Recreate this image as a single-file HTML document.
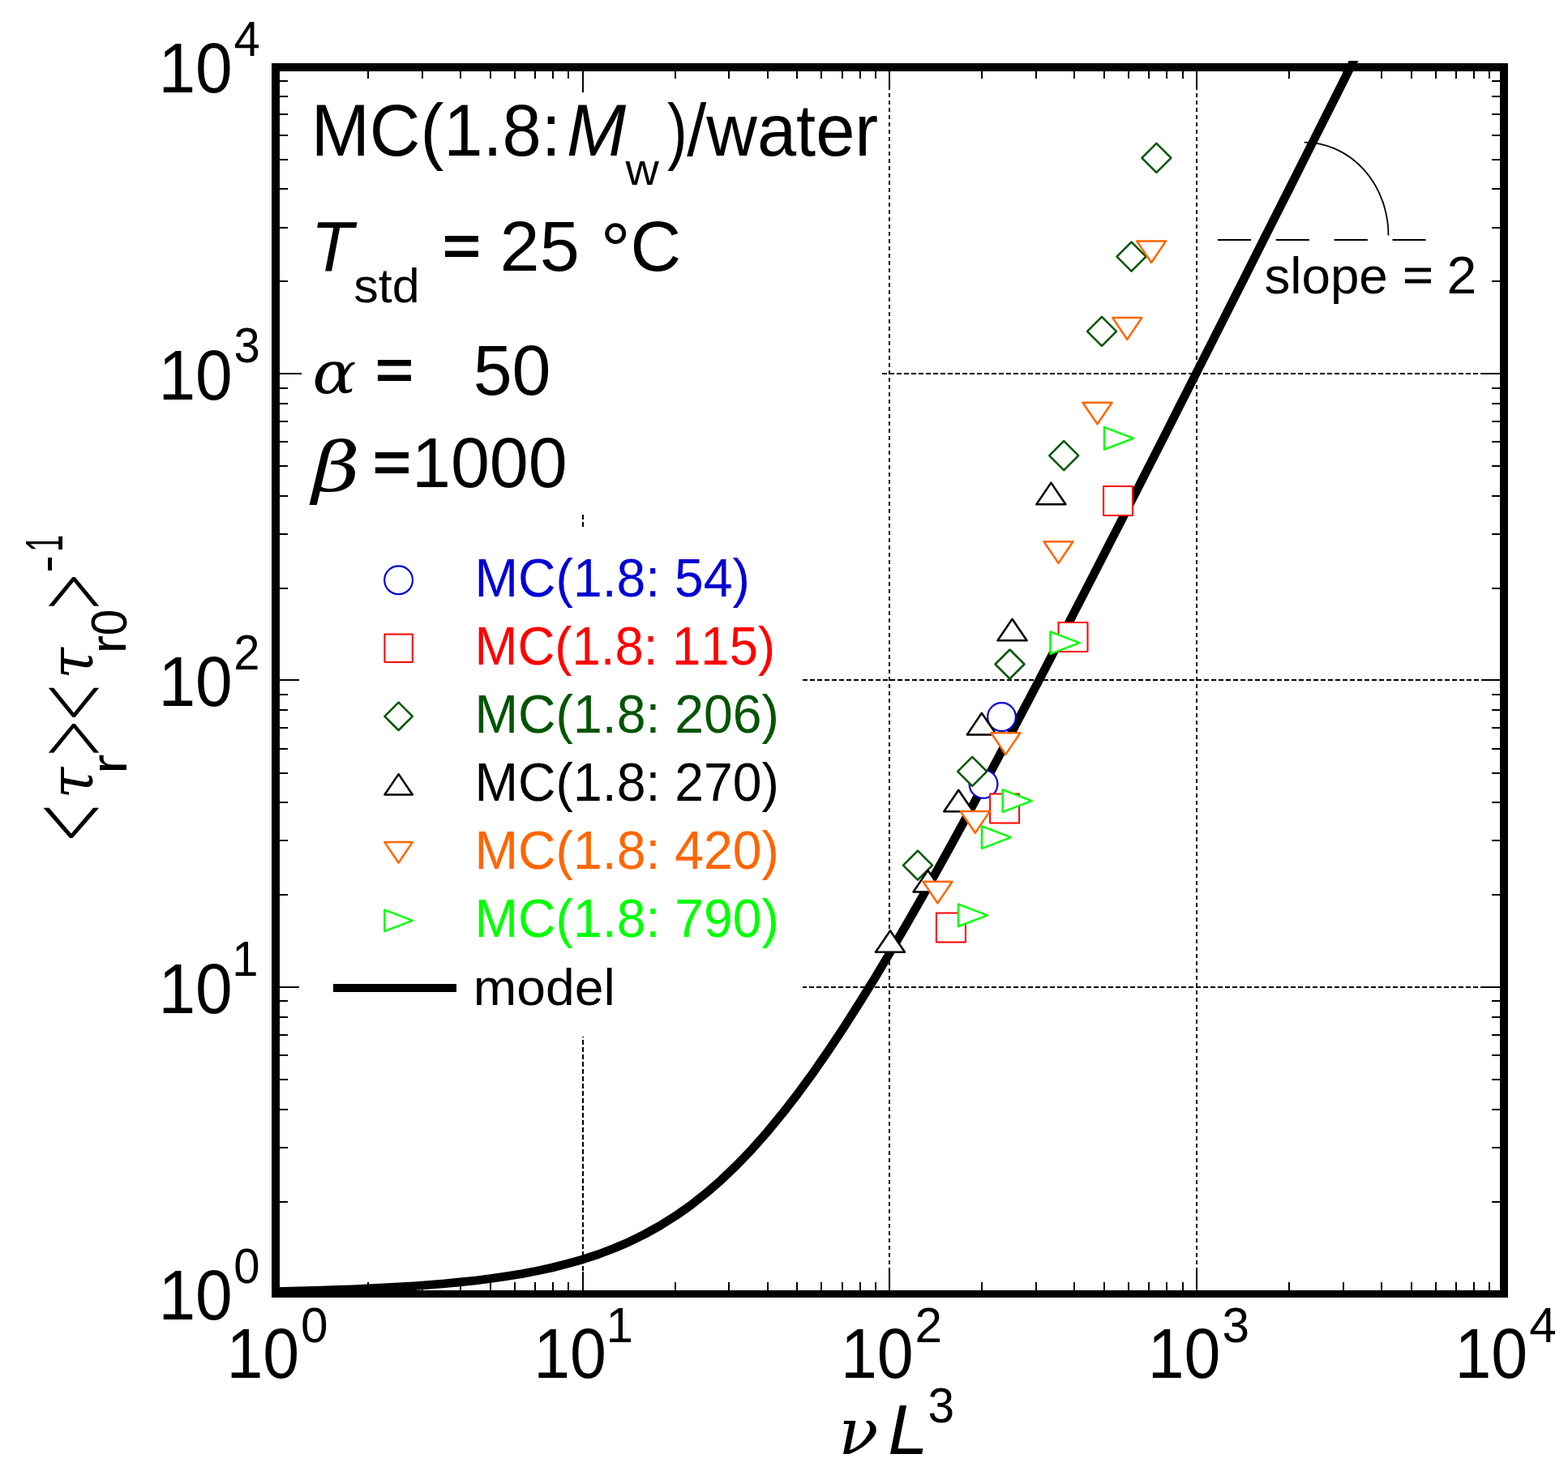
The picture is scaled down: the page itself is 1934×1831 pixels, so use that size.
<!DOCTYPE html>
<html lang="en"><head><meta charset="utf-8"><title>MC(1.8:Mw)/water relaxation time plot</title>
<style>html,body{margin:0;padding:0;background:#fff}svg{display:block}text{font-kerning:none;white-space:pre}</style>
</head><body>
<svg xmlns="http://www.w3.org/2000/svg" width="1934" height="1831" viewBox="0 0 1934 1831" xml:space="preserve">
<rect width="1934" height="1831" fill="#fff"/>
<g stroke="#000" stroke-width="2" stroke-dasharray="5.6 3.4" fill="none" shape-rendering="crispEdges">
<line x1="719" y1="86.0" x2="719" y2="1592"/>
<line x1="1097" y1="87.7" x2="1097" y2="1592"/>
<line x1="1476" y1="87.7" x2="1476" y2="1592"/>
<line x1="341.0" y1="1218" x2="1850" y2="1218"/>
<line x1="342.0" y1="839" x2="1850" y2="839"/>
<line x1="341.0" y1="461" x2="1850" y2="461"/>
</g>
<rect x="372" y="114" width="716" height="521" fill="#fff"/>
<rect x="369" y="653" width="621" height="626" fill="#fff"/>
<path shape-rendering="crispEdges" fill="#000" d="M453 88h2v9h-2zM453 1582h2v10h-2zM345 1482h10v2h-10zM1840 1482h10v2h-10zM520 88h2v9h-2zM520 1582h2v10h-2zM345 1415h10v2h-10zM1840 1415h10v2h-10zM567 88h2v9h-2zM567 1582h2v10h-2zM345 1368h10v2h-10zM1840 1368h10v2h-10zM604 88h2v9h-2zM604 1582h2v10h-2zM345 1331h10v2h-10zM1840 1331h10v2h-10zM634 88h2v9h-2zM634 1582h2v10h-2zM345 1301h10v2h-10zM1840 1301h10v2h-10zM659 88h2v9h-2zM659 1582h2v10h-2zM345 1276h10v2h-10zM1840 1276h10v2h-10zM681 88h2v9h-2zM681 1582h2v10h-2zM345 1254h10v2h-10zM1840 1254h10v2h-10zM700 88h2v9h-2zM700 1582h2v10h-2zM345 1234h10v2h-10zM1840 1234h10v2h-10zM718 88h2v23h-2zM718 1569h2v23h-2zM345 1217h23v2h-23zM1827 1217h23v2h-23zM832 88h2v9h-2zM832 1582h2v10h-2zM345 1103h10v2h-10zM1840 1103h10v2h-10zM898 88h2v9h-2zM898 1582h2v10h-2zM345 1036h10v2h-10zM1840 1036h10v2h-10zM946 88h2v9h-2zM946 1582h2v10h-2zM345 989h10v2h-10zM1840 989h10v2h-10zM982 88h2v9h-2zM982 1582h2v10h-2zM345 953h10v2h-10zM1840 953h10v2h-10zM1012 88h2v9h-2zM1012 1582h2v10h-2zM345 923h10v2h-10zM1840 923h10v2h-10zM1038 88h2v9h-2zM1038 1582h2v10h-2zM345 897h10v2h-10zM1840 897h10v2h-10zM1060 88h2v9h-2zM1060 1582h2v10h-2zM345 875h10v2h-10zM1840 875h10v2h-10zM1079 88h2v9h-2zM1079 1582h2v10h-2zM345 856h10v2h-10zM1840 856h10v2h-10zM1096 88h2v23h-2zM1096 1569h2v23h-2zM345 838h23v2h-23zM1827 838h23v2h-23zM1210 88h2v9h-2zM1210 1582h2v10h-2zM345 725h10v2h-10zM1840 725h10v2h-10zM1277 88h2v9h-2zM1277 1582h2v10h-2zM345 658h10v2h-10zM1840 658h10v2h-10zM1324 88h2v9h-2zM1324 1582h2v10h-2zM345 611h10v2h-10zM1840 611h10v2h-10zM1361 88h2v9h-2zM1361 1582h2v10h-2zM345 574h10v2h-10zM1840 574h10v2h-10zM1391 88h2v9h-2zM1391 1582h2v10h-2zM345 544h10v2h-10zM1840 544h10v2h-10zM1416 88h2v9h-2zM1416 1582h2v10h-2zM345 519h10v2h-10zM1840 519h10v2h-10zM1438 88h2v9h-2zM1438 1582h2v10h-2zM345 497h10v2h-10zM1840 497h10v2h-10zM1458 88h2v9h-2zM1458 1582h2v10h-2zM345 478h10v2h-10zM1840 478h10v2h-10zM1475 88h2v23h-2zM1475 1569h2v23h-2zM345 460h23v2h-23zM1827 460h23v2h-23zM1589 88h2v9h-2zM1589 1582h2v10h-2zM345 346h10v2h-10zM1840 346h10v2h-10zM1656 88h2v9h-2zM1656 1582h2v10h-2zM345 280h10v2h-10zM1840 280h10v2h-10zM1703 88h2v9h-2zM1703 1582h2v10h-2zM345 232h10v2h-10zM1840 232h10v2h-10zM1740 88h2v9h-2zM1740 1582h2v10h-2zM345 196h10v2h-10zM1840 196h10v2h-10zM1770 88h2v9h-2zM1770 1582h2v10h-2zM345 166h10v2h-10zM1840 166h10v2h-10zM1795 88h2v9h-2zM1795 1582h2v10h-2zM345 140h10v2h-10zM1840 140h10v2h-10zM1817 88h2v9h-2zM1817 1582h2v10h-2zM345 118h10v2h-10zM1840 118h10v2h-10zM1836 88h2v9h-2zM1836 1582h2v10h-2zM345 99h10v2h-10zM1840 99h10v2h-10zM345 460h27v2h-27zM345 838h24v2h-24zM718 88h2v26h-2z"/>
<path shape-rendering="crispEdges" fill="#000" fill-rule="evenodd" d="M335 78H1860V1601H335zM345 88H1850V1592H345z"/>
<clipPath id="pc"><rect x="335" y="75" width="1525" height="1526"/></clipPath>
<polyline clip-path="url(#pc)" fill="none" stroke="#000" stroke-width="10.6" stroke-linejoin="round" points="340.3,1593.5 359.2,1593.1 378.2,1592.6 397.1,1592.0 416.1,1591.4 435.0,1590.7 453.9,1589.9 472.9,1588.9 491.8,1587.9 510.7,1586.7 529.7,1585.3 548.6,1583.7 567.6,1581.9 586.5,1579.9 605.4,1577.5 624.4,1574.8 643.3,1571.7 662.2,1568.1 681.2,1564.0 700.1,1559.2 719.0,1553.8 738.0,1547.6 756.9,1540.4 775.9,1532.3 794.8,1523.0 813.7,1512.5 832.7,1500.6 851.6,1487.3 870.5,1472.4 889.5,1455.9 908.4,1437.9 927.4,1418.1 946.3,1396.7 965.2,1373.7 984.2,1349.2 1003.1,1323.3 1022.0,1295.9 1041.0,1267.4 1059.9,1237.7 1078.9,1207.0 1097.8,1175.4 1116.7,1143.0 1135.7,1109.9 1154.6,1076.2 1173.6,1041.9 1192.5,1007.2 1211.4,972.1 1230.4,936.6 1249.3,900.8 1268.2,864.8 1287.2,828.5 1306.1,792.0 1325.0,755.4 1344.0,718.6 1362.9,681.7 1381.9,644.7 1400.8,607.6 1419.7,570.3 1438.7,533.1 1457.6,495.7 1476.5,458.3 1495.5,420.8 1514.4,383.3 1533.4,345.8 1552.3,308.2 1571.2,270.6 1590.2,233.0 1609.1,195.3 1628.1,157.7 1647.0,120.0 1665.9,82.3 1684.9,44.5 1703.8,6.8"/>
<g>
<circle cx="1235.5" cy="884.6" r="17.4" fill="#fff" stroke="#0000d4" stroke-width="2.2" stroke-linejoin="round"/>
<circle cx="1213.0" cy="967.4" r="17.4" fill="#fff" stroke="#0000d4" stroke-width="2.2" stroke-linejoin="round"/>
<rect x="1361.1" y="600.1" width="36.0" height="36.0" fill="#fff" stroke="#ff0000" stroke-width="2" stroke-linejoin="round"/>
<rect x="1305.5" y="768.0" width="36.0" height="36.0" fill="#fff" stroke="#ff0000" stroke-width="2" stroke-linejoin="round"/>
<rect x="1221.1" y="979.6" width="36.0" height="36.0" fill="#fff" stroke="#ff0000" stroke-width="2" stroke-linejoin="round"/>
<rect x="1154.9" y="1126.4" width="36.0" height="36.0" fill="#fff" stroke="#ff0000" stroke-width="2" stroke-linejoin="round"/>
<polygon points="1426.4,176.9 1444.4,194.9 1426.4,212.9 1408.4,194.9" fill="#fff" stroke="#005500" stroke-width="2.5" stroke-linejoin="round"/>
<polygon points="1395.5,298.6 1413.5,316.6 1395.5,334.6 1377.5,316.6" fill="#fff" stroke="#005500" stroke-width="2.5" stroke-linejoin="round"/>
<polygon points="1359.0,390.9 1377.0,408.9 1359.0,426.9 1341.0,408.9" fill="#fff" stroke="#005500" stroke-width="2.5" stroke-linejoin="round"/>
<polygon points="1312.2,544.1 1330.2,562.1 1312.2,580.1 1294.2,562.1" fill="#fff" stroke="#005500" stroke-width="2.5" stroke-linejoin="round"/>
<polygon points="1245.5,801.5 1263.5,819.5 1245.5,837.5 1227.5,819.5" fill="#fff" stroke="#005500" stroke-width="2.5" stroke-linejoin="round"/>
<polygon points="1199.2,933.9 1217.2,951.9 1199.2,969.9 1181.2,951.9" fill="#fff" stroke="#005500" stroke-width="2.5" stroke-linejoin="round"/>
<polygon points="1132.0,1049.6 1150.0,1067.6 1132.0,1085.6 1114.0,1067.6" fill="#fff" stroke="#005500" stroke-width="2.5" stroke-linejoin="round"/>
<polygon points="1296.4,595.6 1314.4,622.2 1278.4,622.2" fill="#fff" stroke="#000000" stroke-width="2.5" stroke-linejoin="round"/>
<polygon points="1248.5,763.7 1266.5,790.3 1230.5,790.3" fill="#fff" stroke="#000000" stroke-width="2.5" stroke-linejoin="round"/>
<polygon points="1210.9,879.8 1228.9,906.4 1192.9,906.4" fill="#fff" stroke="#000000" stroke-width="2.5" stroke-linejoin="round"/>
<polygon points="1182.3,974.7 1200.3,1001.3 1164.3,1001.3" fill="#fff" stroke="#000000" stroke-width="2.5" stroke-linejoin="round"/>
<polygon points="1144.5,1073.9 1162.5,1100.5 1126.5,1100.5" fill="#fff" stroke="#000000" stroke-width="2.5" stroke-linejoin="round"/>
<polygon points="1098.0,1148.2 1116.0,1174.8 1080.0,1174.8" fill="#fff" stroke="#000000" stroke-width="2.5" stroke-linejoin="round"/>
<polygon points="1420.1,324.0 1438.1,297.4 1402.1,297.4" fill="#fff" stroke="#ff6600" stroke-width="2.5" stroke-linejoin="round"/>
<polygon points="1390.3,418.7 1408.3,392.1 1372.3,392.1" fill="#fff" stroke="#ff6600" stroke-width="2.5" stroke-linejoin="round"/>
<polygon points="1353.5,523.3 1371.5,496.7 1335.5,496.7" fill="#fff" stroke="#ff6600" stroke-width="2.5" stroke-linejoin="round"/>
<polygon points="1305.5,694.9 1323.5,668.3 1287.5,668.3" fill="#fff" stroke="#ff6600" stroke-width="2.5" stroke-linejoin="round"/>
<polygon points="1240.4,930.9 1258.4,904.3 1222.4,904.3" fill="#fff" stroke="#ff6600" stroke-width="2.5" stroke-linejoin="round"/>
<polygon points="1202.8,1027.7 1220.8,1001.1 1184.8,1001.1" fill="#fff" stroke="#ff6600" stroke-width="2.5" stroke-linejoin="round"/>
<polygon points="1156.5,1114.4 1174.5,1087.8 1138.5,1087.8" fill="#fff" stroke="#ff6600" stroke-width="2.5" stroke-linejoin="round"/>
<polygon points="1398.1,540.8 1362.1,554.5 1362.1,527.1" fill="#fff" stroke="#00ff00" stroke-width="2.5" stroke-linejoin="round"/>
<polygon points="1331.5,793.1 1295.5,806.8 1295.5,779.4" fill="#fff" stroke="#00ff00" stroke-width="2.5" stroke-linejoin="round"/>
<polygon points="1272.7,988.1 1236.7,1001.8 1236.7,974.4" fill="#fff" stroke="#00ff00" stroke-width="2.5" stroke-linejoin="round"/>
<polygon points="1247.0,1033.1 1211.0,1046.8 1211.0,1019.4" fill="#fff" stroke="#00ff00" stroke-width="2.5" stroke-linejoin="round"/>
<polygon points="1218.0,1129.3 1182.0,1143.0 1182.0,1115.6" fill="#fff" stroke="#00ff00" stroke-width="2.5" stroke-linejoin="round"/>
</g>
<path d="M1501.8 296H1758.5" stroke="#000" stroke-width="1.8" stroke-dasharray="41.3 30.6" fill="none"/>
<path d="M1608.7 175.6A103.8 114.8 0 0 1 1712.5 290.4" stroke="#000" stroke-width="1.8" fill="none"/>
<text transform="translate(1559.43 361.90) scale(1.0271 1.0000)" font-family='"Liberation Sans", sans-serif' font-size="62.07">slope</text>
<text transform="translate(1730.36 357.97) scale(0.6401 0.5600)" font-family='"Liberation Sans", sans-serif' font-size="100" fill="#000" stroke="#000" stroke-width="1.55" stroke-linejoin="miter">=</text>
<text transform="translate(1784.57 361.90) scale(1.0282 1.0000)" font-family='"Liberation Sans", sans-serif' font-size="64.47">2</text>
<text transform="translate(195.44 1627.92) scale(0.9388 1.0000)" font-family='"Liberation Sans", sans-serif' font-size="87.50">10</text>
<text transform="translate(288.27 1582.62) scale(0.9592 1.0000)" font-family='"Liberation Sans", sans-serif' font-size="60.47">0</text>
<text transform="translate(195.44 1249.52) scale(0.9388 1.0000)" font-family='"Liberation Sans", sans-serif' font-size="87.50">10</text>
<text transform="translate(286.18 1204.22) scale(0.9592 1.0000)" font-family='"Liberation Sans", sans-serif' font-size="60.47">1</text>
<text transform="translate(195.44 871.12) scale(0.9388 1.0000)" font-family='"Liberation Sans", sans-serif' font-size="87.50">10</text>
<text transform="translate(288.27 825.82) scale(0.9592 1.0000)" font-family='"Liberation Sans", sans-serif' font-size="60.47">2</text>
<text transform="translate(195.44 492.72) scale(0.9388 1.0000)" font-family='"Liberation Sans", sans-serif' font-size="87.50">10</text>
<text transform="translate(288.44 447.42) scale(0.9592 1.0000)" font-family='"Liberation Sans", sans-serif' font-size="60.47">3</text>
<text transform="translate(195.44 114.32) scale(0.9388 1.0000)" font-family='"Liberation Sans", sans-serif' font-size="87.50">10</text>
<text transform="translate(288.46 69.02) scale(0.9592 1.0000)" font-family='"Liberation Sans", sans-serif' font-size="60.47">4</text>
<text transform="translate(279.40 1700.00) scale(0.9227 1.0000)" font-family='"Liberation Sans", sans-serif' font-size="87.50">10</text>
<text transform="translate(370.98 1655.60) scale(0.9976 1.0000)" font-family='"Liberation Sans", sans-serif' font-size="60.47">0</text>
<text transform="translate(658.15 1700.00) scale(0.9227 1.0000)" font-family='"Liberation Sans", sans-serif' font-size="87.50">10</text>
<text transform="translate(747.60 1655.60) scale(0.9976 1.0000)" font-family='"Liberation Sans", sans-serif' font-size="60.47">1</text>
<text transform="translate(1036.90 1700.00) scale(0.9227 1.0000)" font-family='"Liberation Sans", sans-serif' font-size="87.50">10</text>
<text transform="translate(1128.48 1655.60) scale(0.9976 1.0000)" font-family='"Liberation Sans", sans-serif' font-size="60.47">2</text>
<text transform="translate(1415.65 1700.00) scale(0.9227 1.0000)" font-family='"Liberation Sans", sans-serif' font-size="87.50">10</text>
<text transform="translate(1507.40 1655.60) scale(0.9976 1.0000)" font-family='"Liberation Sans", sans-serif' font-size="60.47">3</text>
<text transform="translate(1794.40 1700.00) scale(0.9227 1.0000)" font-family='"Liberation Sans", sans-serif' font-size="87.50">10</text>
<text transform="translate(1886.17 1655.60) scale(0.9976 1.0000)" font-family='"Liberation Sans", sans-serif' font-size="60.47">4</text>
<text transform="translate(383.69 191.90) scale(0.9615 1.0000)" font-family='"Liberation Sans", sans-serif' font-size="90.12">MC(1.8:</text>
<text transform="translate(698.90 191.90) scale(0.9752 1.0000)" font-family='"Liberation Sans", sans-serif' font-style="italic" font-size="90.12">M</text>
<text transform="translate(771.58 227.70) scale(1.0406 1.0000)" font-family='"Liberation Sans", sans-serif' font-size="54.92">w</text>
<text transform="translate(822.96 191.90) scale(0.8245 1.0000)" font-family='"Liberation Sans", sans-serif' font-size="90.12">)</text>
<text transform="translate(847.30 191.90) scale(0.9614 1.0000)" font-family='"Liberation Sans", sans-serif' font-size="90.12">/water</text>
<text transform="translate(383.55 334.00) scale(0.9733 1.0000)" font-family='"Liberation Sans", sans-serif' font-style="italic" font-size="87.50">T</text>
<text transform="translate(436.30 373.00) scale(1.0279 1.0000)" font-family='"Liberation Sans", sans-serif' font-size="59.31">std</text>
<text transform="translate(546.27 328.35) scale(0.7956 0.7400)" font-family='"Liberation Sans", sans-serif' font-size="100" fill="#000" stroke="#000" stroke-width="2.94" stroke-linejoin="miter">=</text>
<text transform="translate(616.56 333.90) scale(1.0084 1.0000)" font-family='"Liberation Sans", sans-serif' font-size="87.50">25</text>
<text transform="translate(740.70 339.98) scale(0.9241 0.9306)" font-family='"Liberation Sans", sans-serif' font-size="100">°</text>
<text transform="translate(777.49 334.00) scale(0.9925 1.0000)" font-family='"Liberation Sans", sans-serif' font-size="87.50">C</text>
<text transform="translate(385.32 485.11) scale(0.8039 0.7267)" font-family='"DejaVu Serif", "Liberation Serif", serif' font-style="italic" font-size="100">α</text>
<text transform="translate(463.27 481.35) scale(0.7956 0.7400)" font-family='"Liberation Sans", sans-serif' font-size="100" fill="#000" stroke="#000" stroke-width="2.94" stroke-linejoin="miter">=</text>
<text transform="translate(583.65 487.00) scale(0.9845 1.0000)" font-family='"Liberation Sans", sans-serif' font-size="87.50">50</text>
<text transform="translate(384.70 605.19) scale(1.0246 0.8324)" font-family='"DejaVu Serif", "Liberation Serif", serif' font-style="italic" font-size="100">β</text>
<text transform="translate(460.27 595.35) scale(0.7956 0.7400)" font-family='"Liberation Sans", sans-serif' font-size="100" fill="#000" stroke="#000" stroke-width="2.94" stroke-linejoin="miter">=</text>
<text transform="translate(507.93 600.70) scale(0.9855 1.0000)" font-family='"Liberation Sans", sans-serif' font-size="87.50">1000</text>
<circle cx="491.6" cy="715.8" r="17.4" fill="#fff" stroke="#0000d4" stroke-width="2.2" stroke-linejoin="round"/>
<text transform="translate(585.52 736.00) scale(0.9662 1.0000)" font-family='"Liberation Sans", sans-serif' font-size="66.57" fill="#0000d4">MC(1.8: 54)</text>
<rect x="474.4" y="782.6" width="34.4" height="34.4" fill="#fff" stroke="#ff0000" stroke-width="2" stroke-linejoin="round"/>
<text transform="translate(585.59 820.00) scale(0.9539 1.0000)" font-family='"Liberation Sans", sans-serif' font-size="66.57" fill="#ff0000">MC(1.8: 115)</text>
<polygon points="491.6,866.6 508.8,883.8 491.6,901.0 474.4,883.8" fill="#fff" stroke="#005500" stroke-width="2.5" stroke-linejoin="round"/>
<text transform="translate(585.52 904.00) scale(0.9665 1.0000)" font-family='"Liberation Sans", sans-serif' font-size="66.57" fill="#005500">MC(1.8: 206)</text>
<polygon points="491.6,955.1 508.8,980.5 474.4,980.5" fill="#fff" stroke="#000000" stroke-width="2.5" stroke-linejoin="round"/>
<text transform="translate(585.52 988.00) scale(0.9665 1.0000)" font-family='"Liberation Sans", sans-serif' font-size="66.57" fill="#000000">MC(1.8: 270)</text>
<polygon points="491.6,1064.5 508.8,1039.1 474.4,1039.1" fill="#fff" stroke="#ff6600" stroke-width="2.5" stroke-linejoin="round"/>
<text transform="translate(585.52 1072.00) scale(0.9665 1.0000)" font-family='"Liberation Sans", sans-serif' font-size="66.57" fill="#ff6600">MC(1.8: 420)</text>
<polygon points="508.8,1135.8 474.4,1148.9 474.4,1122.7" fill="#fff" stroke="#00ff00" stroke-width="2.5" stroke-linejoin="round"/>
<text transform="translate(585.52 1156.00) scale(0.9665 1.0000)" font-family='"Liberation Sans", sans-serif' font-size="66.57" fill="#00ff00">MC(1.8: 790)</text>
<path d="M411 1219H563" stroke="#000" stroke-width="10" fill="none" shape-rendering="crispEdges"/>
<text transform="translate(583.73 1240.00) scale(1.0148 1.0000)" font-family='"Liberation Sans", sans-serif' font-size="63.30">model</text>
<text transform="translate(1034.32 1794.40) scale(0.8108 0.7803)" font-family='"DejaVu Serif", "Liberation Serif", serif' font-style="italic" font-size="100">ν</text>
<text transform="translate(1095.27 1793.60) scale(1.0160 1.0000)" font-family='"Liberation Sans", sans-serif' font-style="italic" font-size="87.50">L</text>
<text transform="translate(1144.57 1754.50) scale(0.9654 1.0000)" font-family='"Liberation Sans", sans-serif' font-size="60.73">3</text>
<g transform="translate(113.8 1040.0) rotate(-90)">
<text transform="translate(1.92 21.16) scale(0.7994 1.4158)" font-family='"Liberation Serif", serif' font-size="100">&lt;</text>
<text transform="translate(54.44 0.05) scale(0.7020 0.7523)" font-family='"DejaVu Serif", "Liberation Serif", serif' font-style="italic" font-size="100">τ</text>
<text transform="translate(85.04 42.40) scale(0.7320 0.6374)" font-family='"Liberation Sans", sans-serif' font-size="100">r</text>
<text transform="translate(107.18 20.01) scale(0.7715 1.2893)" font-family='"Liberation Serif", serif' font-size="100">&gt;</text>
<text transform="translate(151.14 20.01) scale(0.7758 1.2893)" font-family='"Liberation Serif", serif' font-size="100">&lt;</text>
<text transform="translate(202.25 0.05) scale(0.7000 0.7523)" font-family='"DejaVu Serif", "Liberation Serif", serif' font-style="italic" font-size="100">τ</text>
<text transform="translate(233.38 41.60) scale(0.6800 0.6226)" font-family='"Liberation Sans", sans-serif' font-size="100">r</text>
<text transform="translate(255.72 41.78) scale(0.5836 0.6384)" font-family='"Liberation Sans", sans-serif' font-size="100">0</text>
<text transform="translate(288.29 19.77) scale(0.7693 1.2852)" font-family='"Liberation Serif", serif' font-size="100">&gt;</text>
<text transform="translate(333.21 -35.69) scale(0.6513 0.6272)" font-family='"Liberation Sans", sans-serif' font-size="100">-</text>
<text transform="translate(359.26 -36.80) scale(0.3734 0.6425)" font-family='"Liberation Sans", sans-serif' font-size="100">1</text>
</g>
</svg>
</body></html>
